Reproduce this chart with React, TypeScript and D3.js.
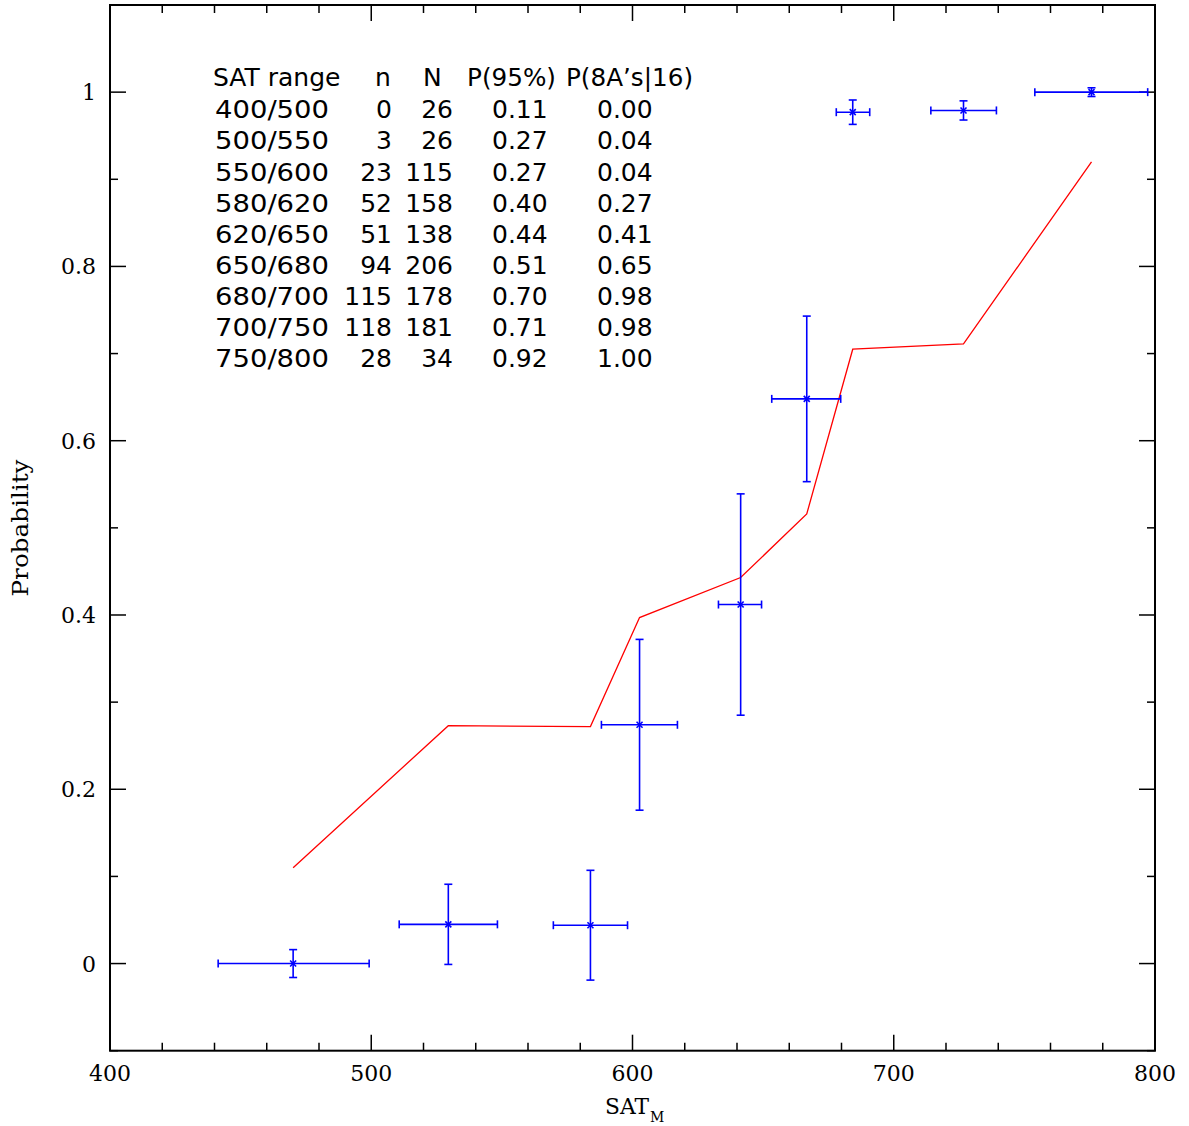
import React from "react";
import * as d3 from "d3";

// Observed data points (blue, with error bars)
const xCenter = [470.1, 529.5, 583.9, 602.7, 641.4, 666.7, 684.3, 726.7, 775.7];
const xLow = [441.4, 510.7, 569.7, 588.1, 632.9, 653.3, 678.0, 714.2, 754.0];
const xHigh = [499.2, 548.3, 598.1, 617.2, 649.4, 679.7, 690.8, 739.3, 797.2];
const pObs = [0.0, 0.045, 0.044, 0.274, 0.412, 0.648, 0.977, 0.979, 1.0];
const pErr = [0.016, 0.046, 0.063, 0.098, 0.127, 0.095, 0.014, 0.011, 0.005];
// Model curve (red)
const p95 = [0.11, 0.273, 0.272, 0.397, 0.443, 0.516, 0.705, 0.711, 0.92];

// Table text
const tableHeader = ["SAT range", "n", "N", "P(95%)", "P(8A\u2019s|16)"];
const ranges = ["400/500", "500/550", "550/600", "580/620", "620/650", "650/680", "680/700", "700/750", "750/800"];
const nVals = ["0", "3", "23", "52", "51", "94", "115", "118", "28"];
const NVals = ["26", "26", "115", "158", "138", "206", "178", "181", "34"];
const p95Text = ["0.11", "0.27", "0.27", "0.40", "0.44", "0.51", "0.70", "0.71", "0.92"];
const p8Text = ["0.00", "0.04", "0.04", "0.27", "0.41", "0.65", "0.98", "0.98", "1.00"];

const xMajor = [400, 500, 600, 700, 800];
const yMajor = [0, 0.2, 0.4, 0.6, 0.8, 1];
const yLabels = ["0", "0.2", "0.4", "0.6", "0.8", "1"];

export default function App() {
  const W = 1189, H = 1126;
  const L = 110, R = 1155, T = 5, B = 1050.7;
  const x = d3.scaleLinear().domain([400, 800]).range([L, R]);
  const y = d3.scaleLinear().domain([-0.1, 1.1]).range([B, T]);

  const xMinor = d3.range(400, 801, 20).filter((v) => v % 100 !== 0);
  const yMinor = d3.range(-0.1, 1.101, 0.1).map((v) => Math.round(v * 10) / 10).filter((v) => Math.round(v * 10) % 2 !== 0);

  const line = d3.line<number>().x((_, i) => x(xCenter[i])).y((d) => y(d));

  const tickCol = "#000";
  const serif = "'DejaVu Serif', serif";
  const sans = "'DejaVu Sans', sans-serif";
  const blue = "#0000ff";
  const cap = 4;

  const rowBase = (i: number) => 118.3 + 31.1 * i;

  return (
    <svg width={W} height={H} style={{ position: "absolute", left: 0, top: 0, background: "#fff" }}>
      <rect x={0} y={0} width={W} height={H} fill="#fff" />
      {/* ticks */}
      <g stroke={tickCol} strokeWidth={1.5}>
        {xMinor.map((v) => (
          <g key={"xm" + v}>
            <line x1={x(v)} x2={x(v)} y1={B} y2={B - 8} />
            <line x1={x(v)} x2={x(v)} y1={T} y2={T + 8} />
          </g>
        ))}
        {xMajor.map((v) => (
          <g key={"xM" + v}>
            <line x1={x(v)} x2={x(v)} y1={B} y2={B - 16} />
            <line x1={x(v)} x2={x(v)} y1={T} y2={T + 16} />
          </g>
        ))}
        {yMinor.map((v) => (
          <g key={"ym" + v}>
            <line x1={L} x2={L + 8} y1={y(v)} y2={y(v)} />
            <line x1={R} x2={R - 8} y1={y(v)} y2={y(v)} />
          </g>
        ))}
        {yMajor.map((v) => (
          <g key={"yM" + v}>
            <line x1={L} x2={L + 16} y1={y(v)} y2={y(v)} />
            <line x1={R} x2={R - 16} y1={y(v)} y2={y(v)} />
          </g>
        ))}
      </g>
      <rect x={L} y={T} width={R - L} height={B - T} fill="none" stroke="#000" strokeWidth={2} />

      {/* tick labels */}
      <g fontFamily={serif} fontSize={22} fill="#000">
        {xMajor.map((v) => (
          <text key={"xl" + v} x={x(v)} y={1081} textAnchor="middle">{v}</text>
        ))}
        {yMajor.map((v, i) => (
          <text key={"yl" + v} x={96} y={y(v) + 8} textAnchor="end">{yLabels[i]}</text>
        ))}
      </g>

      {/* axis titles */}
      <text x={605} y={1114} fontFamily={serif} fontSize={22} fill="#000" textLength={44} lengthAdjust="spacingAndGlyphs">SAT</text>
      <text x={650} y={1122} fontFamily={serif} fontSize={14} fill="#000">M</text>
      <text transform={`translate(28,528) rotate(-90)`} textAnchor="middle" fontFamily={serif} fontSize={22} fill="#000" textLength={137} lengthAdjust="spacingAndGlyphs">
        Probability
      </text>

      {/* red model line */}
      <path d={line(p95) || ""} fill="none" stroke="#ff0000" strokeWidth={1.3} />

      {/* blue data with error bars */}
      <g stroke={blue} strokeWidth={1.6} fill="none">
        {xCenter.map((xc, i) => {
          const cx = x(xc), cy = y(pObs[i]);
          const y1 = y(pObs[i] + pErr[i]), y2 = y(pObs[i] - pErr[i]);
          const xa = x(xLow[i]), xb = x(xHigh[i]);
          return (
            <g key={"pt" + i}>
              <line x1={xa} x2={xb} y1={cy} y2={cy} />
              <line x1={xa} x2={xa} y1={cy - cap} y2={cy + cap} />
              <line x1={xb} x2={xb} y1={cy - cap} y2={cy + cap} />
              <line x1={cx} x2={cx} y1={y1} y2={y2} />
              <line x1={cx - cap} x2={cx + cap} y1={y1} y2={y1} />
              <line x1={cx - cap} x2={cx + cap} y1={y2} y2={y2} />
              <line x1={cx - 3} x2={cx + 3} y1={cy - 3} y2={cy + 3} />
              <line x1={cx - 3} x2={cx + 3} y1={cy + 3} y2={cy - 3} />
            </g>
          );
        })}
      </g>

      {/* table */}
      <g fontFamily={sans} fontSize={25} fill="#000">
        <text x={213} y={86}>{tableHeader[0]}</text>
        <text x={375} y={86}>{tableHeader[1]}</text>
        <text x={423} y={86}>{tableHeader[2]}</text>
        <text x={467} y={86} textLength={89} lengthAdjust="spacingAndGlyphs">{tableHeader[3]}</text>
        <text x={566} y={86} textLength={127} lengthAdjust="spacingAndGlyphs">{tableHeader[4]}</text>
        {ranges.map((r, i) => (
          <g key={"row" + i}>
            <text x={215} y={rowBase(i)} textLength={114} lengthAdjust="spacingAndGlyphs">{r}</text>
            <text x={392} y={rowBase(i)} textAnchor="end">{nVals[i]}</text>
            <text x={453} y={rowBase(i)} textAnchor="end">{NVals[i]}</text>
            <text x={492} y={rowBase(i)}>{p95Text[i]}</text>
            <text x={597} y={rowBase(i)}>{p8Text[i]}</text>
          </g>
        ))}
      </g>
    </svg>
  );
}
